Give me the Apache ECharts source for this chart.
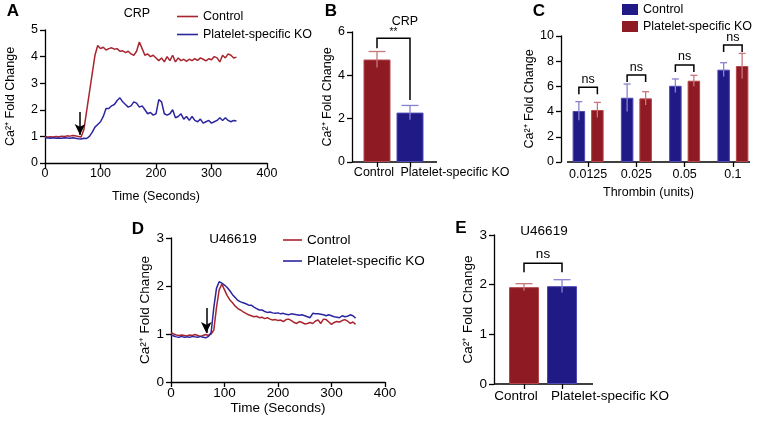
<!DOCTYPE html>
<html><head><meta charset="utf-8">
<script src="https://cdn.jsdelivr.net/npm/echarts@6/dist/echarts.min.js"></script>
<style>html,body{margin:0;padding:0;background:#fff}#c{width:757px;height:427px}</style>
</head><body><div id="c"></div>
<script>
// ---------- DATA ----------
const timeSec = [0,5,10,15,20,25,30,35,40,45,50,55,60,65,70,75,80,85,90,95,100,105,110,115,120,125,130,135,140,145,150,155,160,165,170,175,180,185,190,195,200,205,210,215,220,225,230,235,240,245,250,255,260,265,270,275,280,285,290,295,300,305,310,315,320,325,330,335,340,345];
// Panel A (CRP traces)
const crpControl = [1.0,0.98,0.99,0.98,1.0,0.99,1.01,1.0,1.02,1.01,1.03,1.02,1.0,0.98,1.25,1.95,2.65,3.35,4.05,4.42,4.3,4.35,4.25,4.3,4.33,4.28,4.3,4.2,4.22,4.15,4.2,4.1,4.05,4.2,4.55,4.3,4.05,4.1,4.0,4.05,3.95,3.85,3.95,3.8,4.0,3.85,4.05,3.8,3.95,3.85,3.9,3.82,3.9,3.85,3.92,3.86,3.95,3.9,3.84,3.92,3.88,4.0,3.95,3.8,4.05,3.95,4.1,4.05,3.95,3.98];
const crpKO = [0.95,0.94,0.93,0.95,0.93,0.94,0.93,0.95,0.94,0.93,0.95,0.93,0.91,0.9,0.93,0.92,1.0,1.15,1.35,1.45,1.55,1.75,2.05,2.05,2.15,2.2,2.35,2.45,2.3,2.2,2.1,2.15,2.3,2.25,2.1,2.15,2.0,1.85,1.9,1.8,1.85,2.38,2.3,1.85,1.8,1.85,2.0,1.7,1.75,1.85,1.65,1.75,1.6,1.75,1.6,1.55,1.65,1.5,1.55,1.6,1.5,1.55,1.6,1.7,1.6,1.7,1.6,1.55,1.6,1.58];
const arrowA = [63, 1.92, 1.05];
// Panel B (CRP bars)
const barCats = ['Control','Platelet-specific KO'];
const crpMean = [4.73, 2.28];
const crpErr = [0.37, 0.33];
const sigB = '**';
// Panel C (thrombin)
const thrombinCats = ['0.0125','0.025','0.05','0.1'];
const thrControl = [4.05, 5.1, 6.05, 7.33];
const thrControlErr = [0.74, 1.09, 0.54, 0.55];
const thrKO = [4.13, 5.05, 6.45, 7.62];
const thrKOErr = [0.6, 0.53, 0.43, 1.0];
const bracketCTop = [5.93, 6.9, 7.7, 9.28];
// Panel D (U46619 traces)
const uControl = [1.03,1.0,0.98,0.97,0.98,0.97,0.96,0.98,0.97,0.99,0.97,0.95,0.97,0.99,0.97,1.0,1.08,1.55,1.92,2.04,1.92,1.8,1.71,1.65,1.58,1.53,1.5,1.46,1.43,1.4,1.38,1.36,1.37,1.34,1.35,1.32,1.34,1.31,1.29,1.3,1.28,1.29,1.26,1.3,1.31,1.28,1.24,1.22,1.26,1.24,1.21,1.22,1.24,1.22,1.27,1.29,1.22,1.31,1.3,1.25,1.2,1.24,1.26,1.25,1.28,1.3,1.27,1.22,1.25,1.2];
const uKO = [0.98,0.96,0.94,0.93,0.95,0.93,0.94,0.93,0.95,0.94,0.93,0.95,0.93,0.92,0.95,1.03,1.55,1.95,2.09,2.06,2.02,1.97,1.9,1.82,1.76,1.7,1.67,1.65,1.63,1.6,1.6,1.56,1.53,1.5,1.5,1.47,1.45,1.46,1.44,1.43,1.44,1.42,1.43,1.41,1.4,1.42,1.41,1.4,1.39,1.4,1.38,1.36,1.34,1.43,1.42,1.42,1.41,1.4,1.38,1.4,1.38,1.36,1.35,1.34,1.38,1.36,1.37,1.4,1.38,1.33];
const arrowD = [66, 1.54, 1.02];
// Panel E (U46619 bars)
const uMean = [1.95, 1.97];
const uErr = [0.07, 0.13];

// ---------- STYLE ----------
const RED = '#8E1B23', RED_B = '#B5454C', RED_L = '#A8242E', RED_E = '#C7767B';
const BLUE = '#1F1A86', BLUE_B = '#4D48B4', BLUE_L = '#2B25A0', BLUE_E = '#8682D0';
const FONT = 'Liberation Sans, Arial, Helvetica, sans-serif';
const axisLineS = {show:true, lineStyle:{color:'#000', width:1.3}};
const tickS = {show:true, length:5, lineStyle:{color:'#000', width:1.3}};

function pairs(xs, ys){ return xs.map((x,i)=>[x, ys[i]]); }
function errData(m, e){ return m.map((v,i)=>[i, v - e[i], v + e[i]]); }
function errRender(offset, capW){
  return function(params, api){
    const i = api.value(0);
    const lo = api.coord([i, api.value(1)]);
    const hi = api.coord([i, api.value(2)]);
    const x = lo[0] + offset;
    const st = {stroke: api.visual('color'), lineWidth: 1.3, fill: null};
    return {type:'group', children:[
      {type:'line', shape:{x1:x, y1:lo[1], x2:x, y2:hi[1]}, style:st},
      {type:'line', shape:{x1:x-capW/2, y1:hi[1], x2:x+capW/2, y2:hi[1]}, style:st}
    ]};
  };
}
function valAxis(g, min, max, itv, fs, extra){
  return Object.assign({type:'value', gridIndex:g, min, max, interval:itv,
    axisLine:axisLineS, axisTick:tickS, splitLine:{show:false},
    axisLabel:{color:'#000', fontSize:fs, fontFamily:FONT, margin:7}}, extra||{});
}
const yName = (gap, fs) => ({name:'Ca²⁺ Fold Change', nameLocation:'middle', nameGap:gap,
  nameTextStyle:{color:'#000', fontSize:fs, fontFamily:FONT}});

const arrowLine = (a) => ({silent:true, symbol:['none','arrow'], symbolSize:[8,11],
  label:{show:false}, lineStyle:{color:'#000', width:1.5, type:'solid'},
  data:[[{coord:[a[0], a[1]]},{coord:[a[0], a[2]]}]]});

const option = {
  animation:false,
  backgroundColor:'#fff',
  textStyle:{fontFamily:FONT},
  grid:[
    {left:45, top:30, width:222, height:133},
    {left:360.5, top:32, width:66, height:130},
    {left:564, top:36, width:193, height:126},
    {left:171, top:238, width:214, height:144},
    {left:505, top:235, width:76, height:149}
  ],
  legend:[
    {left:172, top:5, orient:'vertical', icon:'rect', itemWidth:21, itemHeight:1.6, itemGap:5, selectedMode:false,
      textStyle:{color:'#000', fontSize:12.5, fontFamily:FONT},
      data:[{name:'Control', itemStyle:{color:RED_L, borderWidth:0}},{name:'Platelet-specific KO', itemStyle:{color:BLUE_L, borderWidth:0}}]},
    {left:617, top:-2, orient:'vertical', icon:'rect', itemWidth:16, itemHeight:11, itemGap:4, selectedMode:false,
      textStyle:{color:'#000', fontSize:12.5, fontFamily:FONT},
      data:[{name:'Control', itemStyle:{color:BLUE, borderWidth:0}},{name:'Platelet-specific KO', itemStyle:{color:RED, borderWidth:0}}]},
    {left:278, top:228, orient:'vertical', icon:'rect', itemWidth:19, itemHeight:1.6, itemGap:7, selectedMode:false,
      textStyle:{color:'#000', fontSize:13.5, fontFamily:FONT},
      data:[{name:'Control', itemStyle:{color:RED_L, borderWidth:0}},{name:'Platelet-specific KO', itemStyle:{color:BLUE_L, borderWidth:0}}]}
  ],
  xAxis:[
    valAxis(0, 0, 400, 100, 12.5, {name:'Time (Seconds)', nameLocation:'middle', nameGap:27,
      nameTextStyle:{color:'#000', fontSize:12.5, fontFamily:FONT}, axisLabel:{color:'#000', fontSize:12.5, fontFamily:FONT, margin:4}}),
    {type:'category', gridIndex:1, data:barCats, axisLine:{show:false},
      axisTick:Object.assign({alignWithLabel:true}, tickS),
      axisLabel:{interval:0, color:'#000', fontSize:12, fontFamily:FONT, margin:4,
        formatter:(v,i)=> i===0 ? '{a|'+v+'}' : '{b|'+v+'}',
        rich:{a:{fontSize:12.5, fontFamily:FONT, color:'#000', padding:[0,6,0,0]},
              b:{fontSize:12.5, fontFamily:FONT, color:'#000', padding:[0,0,0,90]}}}},
    {type:'category', gridIndex:2, data:thrombinCats, axisLine:{show:false},
      axisTick:Object.assign({alignWithLabel:true}, tickS),
      axisLabel:{interval:0, color:'#000', fontSize:12.5, fontFamily:FONT, margin:6},
      name:'Thrombin (units)', nameLocation:'middle', nameGap:24,
      nameTextStyle:{color:'#000', fontSize:12.5, fontFamily:FONT, padding:[0,24,0,0]}},
    valAxis(3, 0, 400, 100, 13.5, {name:'Time (Seconds)', nameLocation:'middle', nameGap:19,
      nameTextStyle:{color:'#000', fontSize:13.5, fontFamily:FONT}, axisLabel:{color:'#000', fontSize:13.5, fontFamily:FONT, margin:4}}),
    {type:'category', gridIndex:4, data:barCats, axisLine:{show:false},
      axisTick:Object.assign({alignWithLabel:true}, tickS),
      axisLabel:{interval:0, color:'#000', fontSize:13.5, fontFamily:FONT, margin:5,
        formatter:(v,i)=> i===0 ? '{a|'+v+'}' : '{b|'+v+'}',
        rich:{a:{fontSize:13.5, fontFamily:FONT, color:'#000', padding:[0,16,0,0]},
              b:{fontSize:13.5, fontFamily:FONT, color:'#000', padding:[0,0,0,96]}}}}
  ],
  yAxis:[
    valAxis(0, 0, 5, 1, 12.5, yName(28, 12.5)),
    valAxis(1, 0, 6, 2, 12.5, Object.assign({offset:8.5}, yName(17, 12.5))),
    valAxis(2, 0, 10, 2, 12.5, Object.assign({offset:3}, yName(19, 12.5))),
    valAxis(3, 0, 3, 1, 13.5, yName(17, 13.5)),
    valAxis(4, 0, 3, 1, 13.5, Object.assign({offset:11}, yName(18, 13.5)))
  ],
  series:[
    {name:'Control', type:'line', xAxisIndex:0, yAxisIndex:0, data:pairs(timeSec, crpControl),
      showSymbol:false, lineStyle:{color:RED_L, width:1.5}, itemStyle:{color:RED_L}, markLine:arrowLine(arrowA)},
    {name:'Platelet-specific KO', type:'line', xAxisIndex:0, yAxisIndex:0, data:pairs(timeSec, crpKO),
      showSymbol:false, lineStyle:{color:BLUE_L, width:1.5}, itemStyle:{color:BLUE_L}},
    {name:'CRP bars', type:'bar', xAxisIndex:1, yAxisIndex:1, barWidth:27,
      data:[{value:crpMean[0], itemStyle:{color:RED, borderColor:RED_B}}, {value:crpMean[1], itemStyle:{color:BLUE, borderColor:BLUE_B}}],
      itemStyle:{borderWidth:1}},
    {type:'custom', xAxisIndex:1, yAxisIndex:1, z:5, renderItem:(p,api)=>{
        const r = errRender(0, 17)(p, api);
        const c = api.value(0)===0 ? RED_E : BLUE_E;
        r.children.forEach(ch=>ch.style.stroke=c); return r;},
      encode:{x:0, y:[1,2]}, data:errData(crpMean, crpErr)},
    {name:'Control', type:'bar', xAxisIndex:2, yAxisIndex:2, barWidth:12.5, barGap:'48%',
      data:thrControl, itemStyle:{color:BLUE, borderColor:BLUE_B, borderWidth:1}},
    {name:'Platelet-specific KO', type:'bar', xAxisIndex:2, yAxisIndex:2, barWidth:12.5, barGap:'48%',
      data:thrKO, itemStyle:{color:RED, borderColor:RED_B, borderWidth:1}},
    {type:'custom', xAxisIndex:2, yAxisIndex:2, z:5, renderItem:errRender(-9.25, 7), itemStyle:{color:BLUE_E},
      encode:{x:0, y:[1,2]}, data:errData(thrControl, thrControlErr)},
    {type:'custom', xAxisIndex:2, yAxisIndex:2, z:5, renderItem:errRender(9.25, 7), itemStyle:{color:RED_E},
      encode:{x:0, y:[1,2]}, data:errData(thrKO, thrKOErr)},
    {name:'Control', type:'line', xAxisIndex:3, yAxisIndex:3, data:pairs(timeSec, uControl),
      showSymbol:false, lineStyle:{color:RED_L, width:1.5}, itemStyle:{color:RED_L}},
    {name:'Platelet-specific KO', type:'line', xAxisIndex:3, yAxisIndex:3, data:pairs(timeSec, uKO),
      showSymbol:false, lineStyle:{color:BLUE_L, width:1.5}, itemStyle:{color:BLUE_L}, markLine:arrowLine(arrowD)},
    {name:'U46619 bars', type:'bar', xAxisIndex:4, yAxisIndex:4, barWidth:30,
      data:[{value:uMean[0], itemStyle:{color:RED, borderColor:RED_B}}, {value:uMean[1], itemStyle:{color:BLUE, borderColor:BLUE_B}}],
      itemStyle:{borderWidth:1}},
    {type:'custom', xAxisIndex:4, yAxisIndex:4, z:5, renderItem:(p,api)=>{
        const r = errRender(0, 17)(p, api);
        const c = api.value(0)===0 ? RED_E : BLUE_E;
        r.children.forEach(ch=>ch.style.stroke=c); return r;},
      encode:{x:0, y:[1,2]}, data:errData(uMean, uErr)}
  ]
};

const chart = echarts.init(document.getElementById('c'), null, {renderer:'canvas'});
chart.setOption(option);

// ---------- ANNOTATIONS ----------
const P = (g, x, y) => chart.convertToPixel({gridIndex:g}, [x, y]);
const G = [];
const txt = (x, y, s, fs, bold, align) => G.push({type:'text', x, y, style:{text:s, fontSize:fs,
  fontWeight:bold?'bold':'normal', fontFamily:FONT, fill:'#000', align:align||'center', verticalAlign:'middle'}});
const ln = (pts) => G.push({type:'polyline', shape:{points:pts}, style:{stroke:'#000', lineWidth:1.5, fill:null}});
// panel letters
txt(13, 11, 'A', 17, true); txt(331, 11, 'B', 17, true); txt(539, 11, 'C', 17, true);
txt(138, 229, 'D', 17, true); txt(461, 228, 'E', 17, true);
// subtitles
txt(137, 14, 'CRP', 12.5); txt(405, 22, 'CRP', 12.5);
txt(233, 239, 'U46619', 13.5); txt(544, 231, 'U46619', 13.5);
// baselines for bar panels
{ const y1 = P(1,0,0)[1], y2 = P(2,0,0)[1], y4 = P(4,0,0)[1];
  G.push({type:'line', shape:{x1:352, y1:y1, x2:437, y2:y1}, style:{stroke:'#000', lineWidth:1.3}});
  G.push({type:'line', shape:{x1:567, y1:y2, x2:750, y2:y2}, style:{stroke:'#000', lineWidth:1.3}});
  G.push({type:'line', shape:{x1:494, y1:y4, x2:593, y2:y4}, style:{stroke:'#000', lineWidth:1.3}});
}
// B bracket
{ const a = P(1,0,5.71), l = P(1,0,5.25), r = P(1,1,2.86);
  const b = P(1,1,5.71);
  ln([[a[0], l[1]],[a[0], a[1]],[b[0], a[1]],[b[0], r[1]]]);
  txt((a[0]+b[0])/2, a[1]-6, sigB, 10);
}
// C brackets
bracketCTop.forEach((t, i) => {
  const c = P(2, i, t); const leg = P(2, i, t)[1] + 7;
  ln([[c[0]-9.25, leg],[c[0]-9.25, c[1]],[c[0]+9.25, c[1]],[c[0]+9.25, leg]]);
  txt(c[0], c[1]-8, 'ns', 12.5);
});
// E bracket
{ const a = P(4,0,2.43), b = P(4,1,2.43);
  ln([[a[0], a[1]+9],[a[0], a[1]],[b[0], a[1]],[b[0], a[1]+9]]);
  txt((a[0]+b[0])/2, a[1]-9, 'ns', 13.5);
}
chart.setOption({graphic:G});
</script></body></html>
